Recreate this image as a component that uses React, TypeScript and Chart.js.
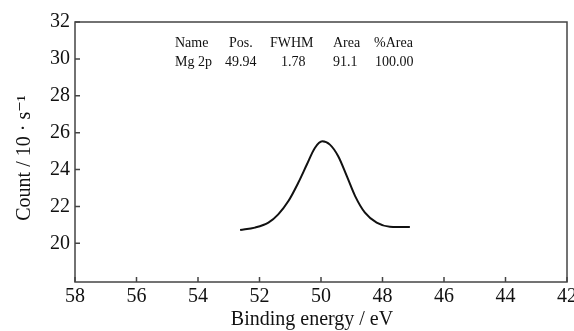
import React, { useEffect, useRef } from "react";
import { Chart, registerables } from "chart.js";

Chart.register(...registerables);

const energies = [52.63, 52.15, 51.71, 51.39, 51.06, 50.74, 50.46, 50.2, 49.96, 49.71, 49.44, 49.16, 48.89, 48.57, 48.19, 47.76, 47.11];
const counts = [20.72, 20.85, 21.12, 21.57, 22.29, 23.28, 24.27, 25.17, 25.53, 25.35, 24.72, 23.64, 22.56, 21.66, 21.12, 20.9, 20.88];
const xTicks = [58, 56, 54, 52, 50, 48, 46, 44, 42];
const yTicks = [20, 22, 24, 26, 28, 30, 32];
const tableHeader = ["Name", "Pos.", "FWHM", "Area", "%Area"];
const tableRow = ["Mg 2p", "49.94", "1.78", "91.1", "100.00"];
const xTitle = "Binding energy / eV";
const yTitle = "Count / 10 · s⁻¹";

const FONT = "'Liberation Serif', 'DejaVu Serif', serif";
const FRAME = "#444";

const framePlugin = {
  id: "frameAndText",
  afterDraw(chart: any) {
    const { ctx, chartArea: a, scales } = chart;
    const x = scales.x;
    const y = scales.y;
    ctx.save();
    ctx.strokeStyle = FRAME;
    ctx.lineWidth = 1.5;
    ctx.strokeRect(a.left, a.top, a.right - a.left, a.bottom - a.top);
    ctx.beginPath();
    xTicks.forEach((v) => {
      const px = x.getPixelForValue(v);
      ctx.moveTo(px, a.bottom);
      ctx.lineTo(px, a.bottom - 5);
    });
    yTicks.forEach((v) => {
      const py = y.getPixelForValue(v);
      ctx.moveTo(a.left, py);
      ctx.lineTo(a.left + 5, py);
    });
    ctx.stroke();

    ctx.fillStyle = "#111";
    ctx.font = `14px ${FONT}`;
    ctx.textBaseline = "middle";
    ctx.textAlign = "left";
    const hx = [175, 229, 270, 333, 374];
    const rx = [175, 225, 281, 333, 375];
    tableHeader.forEach((t, i) => ctx.fillText(t, hx[i], a.top + 21));
    tableRow.forEach((t, i) => ctx.fillText(t, rx[i], a.top + 40));

    ctx.font = `20px ${FONT}`;
    ctx.textAlign = "center";
    ctx.fillText(xTitle, 312, a.bottom + 38);
    ctx.translate(25, 158);
    ctx.rotate(-Math.PI / 2);
    ctx.fillText(yTitle, 0, 0);
    ctx.restore();
  },
};

export default function App() {
  const ref = useRef<HTMLCanvasElement | null>(null);
  useEffect(() => {
    document.body.style.margin = "0";
    const chart = new Chart(ref.current as HTMLCanvasElement, {
      type: "line",
      data: {
        datasets: [
          {
            data: energies.map((e, i) => ({ x: e, y: counts[i] })),
            borderColor: "#111",
            borderWidth: 2,
            pointRadius: 0,
            tension: 0.4,
            cubicInterpolationMode: "monotone",
            fill: false,
          },
        ],
      },
      options: {
        animation: false,
        responsive: false,
        layout: { padding: { left: 0, top: 22, right: 7, bottom: 0 } },
        plugins: { legend: { display: false }, tooltip: { enabled: false } },
        scales: {
          x: {
            type: "linear",
            reverse: true,
            min: 42,
            max: 58,
            afterBuildTicks: (s: any) => {
              s.ticks = xTicks.map((v) => ({ value: v }));
            },
            afterFit: (s: any) => {
              s.height = 49;
              s.paddingLeft = 0;
              s.paddingRight = 0;
            },
            grid: { display: false, drawTicks: false },
            border: { display: false },
            ticks: { color: "#111", font: { family: FONT, size: 20 }, padding: 3, maxRotation: 0, autoSkip: false },
          },
          y: {
            type: "linear",
            min: 17.9,
            max: 32,
            afterBuildTicks: (s: any) => {
              s.ticks = yTicks.map((v) => ({ value: v }));
            },
            afterFit: (s: any) => {
              s.width = 75;
              s.paddingTop = 0;
              s.paddingBottom = 0;
            },
            grid: { display: false, drawTicks: false },
            border: { display: false },
            ticks: { color: "#111", font: { family: FONT, size: 20 }, padding: 5, autoSkip: false },
          },
        },
      },
      plugins: [framePlugin],
    } as any);
    return () => chart.destroy();
  }, []);
  return (
    <div style={{ width: 574, height: 331, background: "#fff" }}>
      <canvas ref={ref} width={574} height={331} style={{ width: 574, height: 331, display: "block" }} />
    </div>
  );
}
